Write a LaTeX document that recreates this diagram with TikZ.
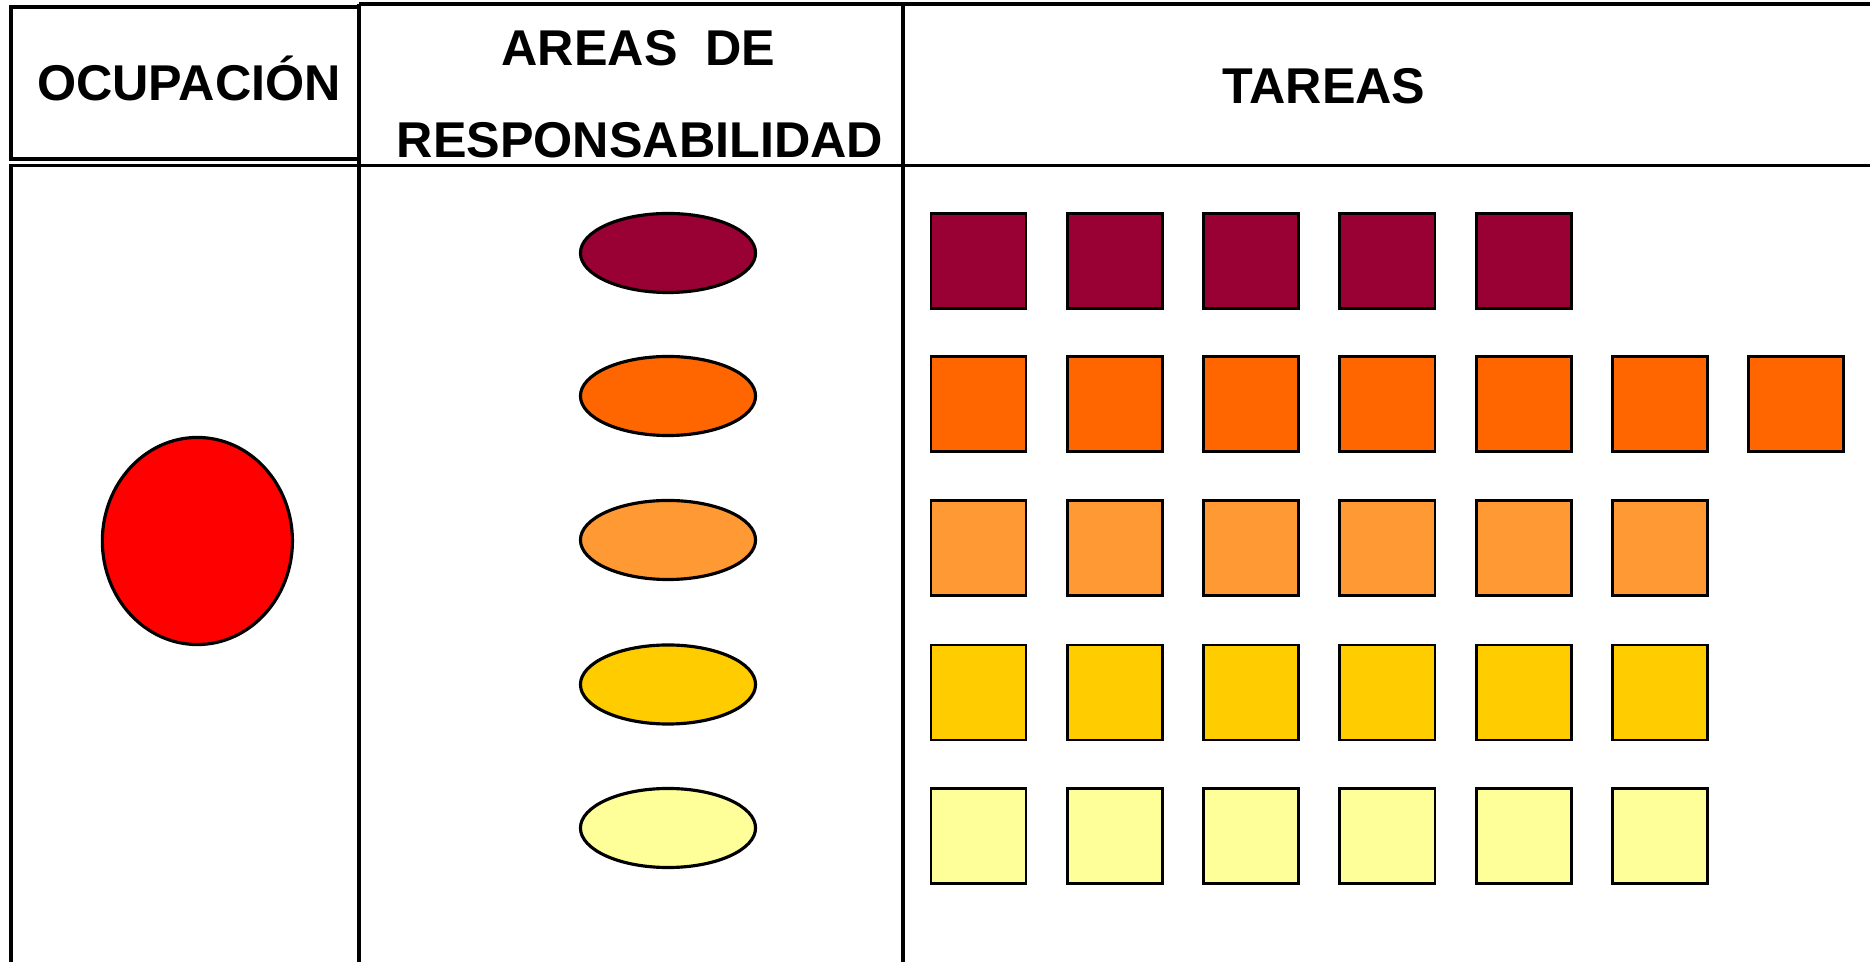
\documentclass[tikz,border=0pt]{standalone}
\usepackage{fontspec}
\setmainfont{Liberation Sans}
\usetikzlibrary{shapes.geometric,positioning}
\definecolor{granate}{HTML}{990033}
\definecolor{naranja}{HTML}{FF6600}
\definecolor{naranjaclaro}{HTML}{FF9933}
\definecolor{oro}{HTML}{FFCC00}
\definecolor{amarillo}{HTML}{FFFF99}
\tikzset{
  tabla/.style={line width=1.1pt},
  titulo/.style={anchor=base,inner sep=0pt,font=\fontsize{14.3}{17}\selectfont\bfseries},
  area/.style={draw,ellipse,line width=0.9pt,inner sep=0pt,minimum width=1.75cm,minimum height=0.79cm},
  tarea/.style={draw,rectangle,line width=0.8pt,inner sep=0pt,minimum size=0.95cm},
  ocupa/.style={draw,ellipse,line width=0.9pt,inner sep=0pt,minimum width=1.9cm,minimum height=2.07cm}
}
\newcommand \mydrawarea[4]
{
\node[area,fill=#3] (a#1) at (668,#2) {};
\foreach \k in {1,...,#4}
  \node[tarea,fill=#3] (t#1-\k) at ({978.5+136.3*(\k-1)},{#2+8}) {};
}

\begin{document}
\begin{tikzpicture}[x=0.01cm, y=-0.01cm]
\useasboundingbox (0,0) rectangle (1870,962);
% table
\coordinate (c1) at (10.7,7);
\coordinate (c2) at (359,4);
\coordinate (c3) at (903,4);
\coordinate (c4) at (1870,4);
\draw[tabla] (c1) rectangle (359,159);
\draw[tabla] (10.7,962) -- (10.7,165.5) -- (359,165.5);
\draw[tabla] (c2) -- (c4);
\draw[tabla] (359,165.5) -- (1870,165.5);
\draw[tabla] (c2) -- (359,962);
\draw[tabla] (c3) -- (903,962);
% headers
\node[titulo] (ocupacion) at (189,101) {OCUPACIÓN};
\node[titulo] (areas1)    at (638.6,65.6) {AREAS~~DE};
\node[titulo] (areas2)    at (640,157.4) {RESPONSABILIDAD};
\node[titulo] (tareas)    at (1324,103.8) {TAREAS};
% occupation
\node[ocupa,fill=red] (ocup) at (197.4,541) {};
% areas and tasks
\mydrawarea{1}{253}{granate}{5}
\mydrawarea{2}{396}{naranja}{7}
\mydrawarea{3}{540}{naranjaclaro}{6}
\mydrawarea{4}{684.5}{oro}{6}
\mydrawarea{5}{828}{amarillo}{6}
\end{tikzpicture}
\end{document}
